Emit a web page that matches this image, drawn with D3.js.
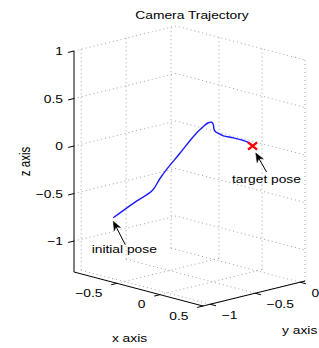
<!DOCTYPE html>
<html><head><meta charset="utf-8">
<script src="https://cdn.jsdelivr.net/npm/d3@7"></script>
<style>html,body{margin:0;padding:0;background:#fff;} svg{display:block;}</style>
</head><body>
<script>
// ---- data ----
const titleText = "Camera Trajectory";
const xTicks = [-0.5, 0, 0.5];
const yTicks = [-1, -0.5, 0];
const zTicks = [-1, -0.5, 0, 0.5, 1];
const xLimits = [-1, 0.5];
const yLimits = [-1.08, 0.055];
const zLimits = [-1.326, 1];
const trajX = [-0.627, -0.478, -0.338, -0.314, -0.278, -0.207, -0.157, -0.123, -0.117, -0.109, -0.112, -0.125, -0.128, -0.127, -0.121, -0.088, -0.045, -0.009, 0];
const trajY = [-1.00, -0.92, -0.84, -0.78, -0.74, -0.66, -0.56, -0.48, -0.43, -0.40, -0.38, -0.36, -0.34, -0.31, -0.26, -0.18, -0.11, -0.07, -0.05];
const trajZ = [-0.684, -0.516, -0.363, -0.248, -0.152, 0.015, 0.179, 0.275, 0.305, 0.305, 0.276, 0.221, 0.187, 0.164, 0.127, 0.095, 0.061, 0.031, 0];
const initialPose = [-0.627, -1.00, -0.684];
const targetPose = [0, -0.05, 0];
const annotations = ["initial pose", "target pose"];
const axisLabels = ["x axis", "y axis", "z axis"];

// ---- layout ----
const W = 319, H = 348;
const O = [74, 272], EX = [129, 34], EY = [102, -25], EZ = [0, -221];
const SX = 1.2, FS = 11.5;
const FONT = "'Liberation Sans', Arial, Helvetica, sans-serif";

const sx = d3.scaleLinear().domain(xLimits).range([0, 1]);
const sy = d3.scaleLinear().domain(yLimits).range([0, 1]);
const sz = d3.scaleLinear().domain(zLimits).range([0, 1]);
function P(x, y, z) {
  const u = sx(x), v = sy(y), w = sz(z);
  return [O[0] + u*EX[0] + v*EY[0] + w*EZ[0], O[1] + u*EX[1] + v*EY[1] + w*EZ[1]];
}
const [x0, x1] = xLimits, [y0, y1] = yLimits, [z0, z1] = zLimits;

const svg = d3.select("body").append("svg").attr("width", W).attr("height", H)
  .style("font-family", FONT);
svg.append("rect").attr("width", W).attr("height", H).attr("fill", "#fff");

function txt(x, y, s, anchor, rot) {
  return svg.append("text")
    .attr("transform", `translate(${x},${y}) scale(${SX},1)` + (rot ? ` rotate(${rot})` : ""))
    .attr("text-anchor", anchor).attr("font-size", FS).attr("fill", "#000").text(s);
}
const line = d3.line();

// grid
const grid = svg.append("g").attr("fill", "none").attr("stroke", "#999")
  .attr("stroke-width", 0.9).attr("stroke-dasharray", "1 3");
yTicks.forEach(y => {
  grid.append("path").attr("d", line([P(x0, y, z0), P(x0, y, z1)]));
  grid.append("path").attr("d", line([P(x0, y, z0), P(x1, y, z0)]));
});
xTicks.forEach(x => {
  grid.append("path").attr("d", line([P(x, y1, z0), P(x, y1, z1)]));
  grid.append("path").attr("d", line([P(x, y0, z0), P(x, y1, z0)]));
});
zTicks.forEach(z => {
  grid.append("path").attr("d", line([P(x0, y0, z), P(x0, y1, z), P(x1, y1, z)]));
});

// axes
const ax = svg.append("g").attr("stroke", "#000").attr("stroke-width", 1).attr("fill", "none");
ax.append("path").attr("d", line([P(x0, y0, z0), P(x1, y0, z0)]));
ax.append("path").attr("d", line([P(x1, y0, z0), P(x1, y1, z0)]));
ax.append("path").attr("d", line([P(x0, y0, z0), P(x0, y0, z1)]));

function unit(v) { const l = Math.hypot(v[0], v[1]); return [v[0]/l, v[1]/l]; }
const dNegY = unit([-EY[0], -EY[1]]), dPosX = unit(EX);
const TL = 6;
xTicks.forEach(x => {
  const p = P(x, y0, z0);
  ax.append("path").attr("d", line([p, [p[0] + dNegY[0]*TL, p[1] + dNegY[1]*TL]]));
  txt(p[0] - 14.5, p[1] + 13.5, String(x).replace("-", "\u2212"), "end");
});
yTicks.forEach(y => {
  const p = P(x1, y, z0);
  ax.append("path").attr("d", line([p, [p[0] + dPosX[0]*TL, p[1] + dPosX[1]*TL]]));
  txt(p[0] + 11.5, p[1] + 15, String(y).replace("-", "\u2212"), "start");
});
zTicks.forEach(z => {
  const p = P(x0, y0, z);
  ax.append("path").attr("d", line([p, [p[0] + dNegY[0]*TL, p[1] + dNegY[1]*TL]]));
  txt(p[0] - 11, p[1] + 4, String(z).replace("-", "\u2212"), "end");
});

// trajectory
const pts = trajX.map((x, i) => P(x, trajY[i], trajZ[i]));
svg.append("path").attr("d", d3.line().curve(d3.curveCatmullRom)(pts))
  .attr("fill", "none").attr("stroke", "#1a1aff").attr("stroke-width", 1.4);

// target marker
const tp = P(...targetPose);
svg.append("path").attr("d", `M${tp[0]-4.5},${tp[1]-3.6}L${tp[0]+4.5},${tp[1]+3.6}M${tp[0]-4.5},${tp[1]+3.6}L${tp[0]+4.5},${tp[1]-3.6}`)
  .attr("stroke", "#ff0000").attr("stroke-width", 2.4).attr("fill", "none");

// annotations
function arrow(tip, tail) {
  const d = unit([tip[0]-tail[0], tip[1]-tail[1]]), n = [-d[1], d[0]];
  const L = 9, w = 3.6;
  const base = [tip[0]-d[0]*L, tip[1]-d[1]*L];
  const notch = [tip[0]-d[0]*L*0.7, tip[1]-d[1]*L*0.7];
  svg.append("path").attr("d", line([tail, notch])).attr("stroke", "#000").attr("stroke-width", 1);
  svg.append("path").attr("d", line([tip, [base[0]+n[0]*w, base[1]+n[1]*w], notch, [base[0]-n[0]*w, base[1]-n[1]*w]]) + "Z")
    .attr("fill", "#000").attr("stroke", "#000").attr("stroke-width", 0.5);
}
const ip = P(...initialPose);
arrow([ip[0], ip[1] + 3.5], [ip[0] + 12, ip[1] + 27]);
txt(ip[0] - 21.6, ip[1] + 35.3, annotations[0], "start");
arrow([tp[0] + 3.2, tp[1] + 7], [tp[0] + 14, tp[1] + 26]);
txt(tp[0] - 20.6, tp[1] + 37, annotations[1], "start");

// labels
txt(192, 19, titleText, "middle");
txt(129.5, 341.5, axisLabels[0], "middle");
txt(299.7, 333.5, axisLabels[1], "middle");
txt(29.5, 161.5, axisLabels[2], "middle", -90);
</script>
</body></html>
